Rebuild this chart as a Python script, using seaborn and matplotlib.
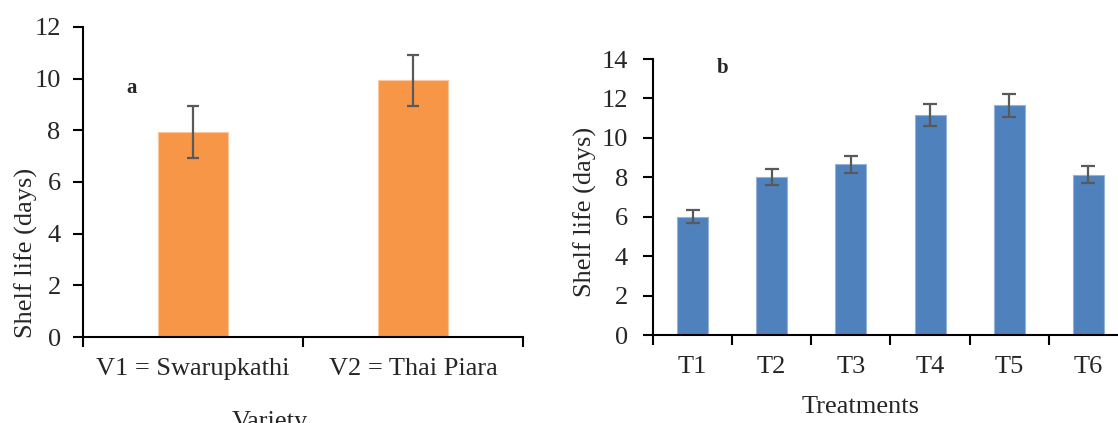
import matplotlib
matplotlib.use("Agg")
import matplotlib.pyplot as plt
import seaborn as sns
import pandas as pd
from matplotlib.ticker import FixedLocator, NullFormatter

varieties = ["V1 = Swarupkathi", "V2 = Thai Piara"]
variety_life = [7.93, 9.93]
variety_err = [1.0, 1.0]

treatments = ["T1", "T2", "T3", "T4", "T5", "T6"]
treatment_life = [6.0, 8.0, 8.67, 11.15, 11.66, 8.14]
treatment_err = [0.32, 0.40, 0.43, 0.57, 0.59, 0.42]

sns.set_style("white")
plt.rcParams["font.family"] = ["Liberation Serif", "DejaVu Serif"]

FS = 19

fig = plt.figure(figsize=(11.18, 4.23), dpi=100)
ax_a = fig.add_axes([0.0742, 0.2033, 0.3936, 0.733])
ax_b = fig.add_axes([0.584, 0.208, 0.425, 0.6525])


def draw_panel(ax, cats, vals, errs, color, edge, width, ymax, ystep, capsize):
    df = pd.DataFrame({"cat": cats, "val": vals})
    sns.barplot(data=df, x="cat", y="val", color=color, width=width,
                errorbar=None, saturation=1, edgecolor=edge, linewidth=0.8, ax=ax)
    xs = [p.get_x() + p.get_width() / 2 for p in ax.patches]
    ax.errorbar(xs, vals, yerr=errs, fmt="none", ecolor="#595959",
                elinewidth=1.6, capsize=capsize, capthick=1.6, zorder=3)
    n = len(cats)
    ax.set_xlim(-0.5, n - 0.5)
    ax.set_ylim(0, ymax)
    ax.set_yticks(range(0, ymax + 1, ystep))
    ax.xaxis.set_minor_locator(FixedLocator([i - 0.5 for i in range(n + 1)]))
    ax.xaxis.set_minor_formatter(NullFormatter())
    ax.tick_params(axis="x", which="major", length=0, labelsize=FS, pad=15)
    ax.tick_params(axis="x", which="minor", length=7, width=1.5, color="black",
                   direction="out", bottom=True)
    ax.tick_params(axis="y", length=7, width=1.5, color="black",
                   direction="out", left=True, labelsize=FS)
    for side in ["top", "right"]:
        ax.spines[side].set_visible(False)
    for side in ["left", "bottom"]:
        ax.spines[side].set_linewidth(1.5)
        ax.spines[side].set_color("black")
    ax.grid(False)


draw_panel(ax_a, varieties, variety_life, variety_err, "#F79646", "#FBC79F",
           0.314, 12, 2, 4.5)
ax_a.tick_params(axis="y", pad=9)
ax_a.set_xlabel("Variety", fontsize=FS)
ax_a.xaxis.set_label_coords(0.425, -0.24)
ax_a.set_ylabel("Shelf life (days)", fontsize=FS)
ax_a.yaxis.set_label_coords(-0.103, 0.27)
ax_a.text(0.111, 0.803, "a", transform=ax_a.transAxes, fontsize=15,
          fontweight="bold", ha="center", va="center")

draw_panel(ax_b, treatments, treatment_life, treatment_err, "#4F81BD", "#95B3D7",
           0.39, 14, 2, 5)
ax_b.tick_params(axis="y", pad=11)
ax_b.set_xlabel("Treatments", fontsize=FS)
ax_b.xaxis.set_label_coords(0.436, -0.22)
ax_b.set_ylabel("Shelf life (days)", fontsize=FS)
ax_b.yaxis.set_label_coords(-0.118, 0.446)
ax_b.text(0.147, 0.967, "b", transform=ax_b.transAxes, fontsize=15,
          fontweight="bold", ha="center", va="center")

fig.savefig("out.png", dpi=100)
